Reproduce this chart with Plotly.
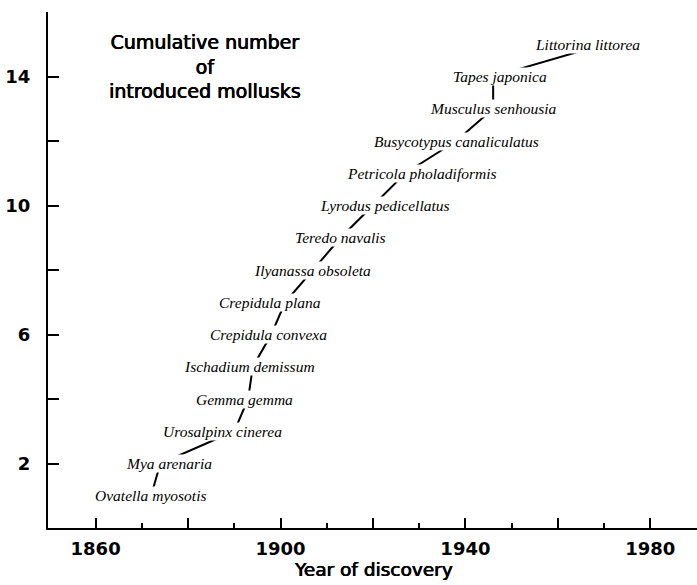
import plotly.graph_objects as go

# ---- data ----
species = [
    "Ovatella myosotis", "Mya arenaria", "Urosalpinx cinerea", "Gemma gemma",
    "Ischadium demissum", "Crepidula convexa", "Crepidula plana",
    "Ilyanassa obsoleta", "Teredo navalis", "Lyrodus pedicellatus",
    "Petricola pholadiformis", "Busycotypus canaliculatus",
    "Musculus senhousia", "Tapes japonica", "Littorina littorea",
]
years = [1872, 1874, 1890, 1893, 1894, 1898, 1901, 1907, 1913, 1920,
         1927, 1938, 1946, 1946, 1970]
cumulative = [1, 2, 3, 4, 5, 6, 7, 8, 9, 10, 11, 12, 13, 14, 15]

x_tickvals = [1860, 1880, 1900, 1920, 1940, 1960, 1980, 1990]
x_ticktext = ["1860", "", "1900", "", "1940", "", "1980", ""]
x_minor = [1870, 1890, 1910, 1930, 1950, 1970]
y_tickvals = [2, 4, 6, 8, 10, 12, 14, 16]
y_ticktext = ["2", "", "6", "", "10", "", "14", ""]

# label placement offsets (pixels) relative to each point
label_xshift = [0, 9, -12, -4, -3, -3, -15, 0, 0, 12, 17, 0, 0, 7, -17]

fig = go.Figure()
fig.add_trace(go.Scatter(
    x=years, y=cumulative, mode="lines",
    line=dict(color="black", width=2),
    hoverinfo="skip", showlegend=False,
))

annotations = []
for name, xv, yv, dx in zip(species, years, cumulative, label_xshift):
    annotations.append(dict(
        x=xv, y=yv, xref="x", yref="y", text=f"<i>{name}</i>",
        showarrow=False, xshift=dx, bgcolor="white", borderpad=0,
        font=dict(family="Liberation Serif", size=15.5, color="black"),
        xanchor="center", yanchor="middle",
    ))

heavy = "0.45px 0 0 black, -0.3px 0 0 black"
annotations.append(dict(
    x=0.242, y=0.895, xref="paper", yref="paper",
    text="Cumulative number<br>of<br>introduced mollusks",
    showarrow=False, align="center", xanchor="center", yanchor="middle",
    font=dict(family="DejaVu Sans", size=19, color="black", shadow=heavy),
))
annotations.append(dict(
    x=0.502, y=-0.08, xref="paper", yref="paper",
    text="Year of discovery", showarrow=False,
    xanchor="center", yanchor="middle",
    font=dict(family="DejaVu Sans", size=18.5, color="black", shadow=heavy),
))

tickfont = dict(family="DejaVu Sans", size=18, color="black", weight="bold")

fig.update_layout(
    width=697, height=585,
    margin=dict(l=48, r=0, t=12, b=57),
    plot_bgcolor="white", paper_bgcolor="white",
    annotations=annotations,
    xaxis=dict(
        range=[1849.7, 1990.1], showgrid=False, zeroline=False,
        automargin=False,
        showline=True, linecolor="black", linewidth=2,
        ticks="inside", ticklen=10, tickwidth=2, tickcolor="black",
        tickmode="array", tickvals=x_tickvals, ticktext=x_ticktext,
        tickfont=tickfont, ticklabelstandoff=3,
        minor=dict(ticks="inside", ticklen=5, tickwidth=2,
                   tickcolor="black", tickvals=x_minor, showgrid=False),
    ),
    yaxis=dict(
        range=[0, 16], showgrid=False, zeroline=False,
        automargin=False,
        showline=True, linecolor="black", linewidth=2,
        ticks="inside", ticklen=11, tickwidth=2, tickcolor="black",
        tickmode="array", tickvals=y_tickvals, ticktext=y_ticktext,
        tickfont=tickfont, ticklabelstandoff=12,
    ),
)

fig.write_html("out.html",
               config={"displayModeBar": False},
               post_script="document.body.style.margin='0';")
